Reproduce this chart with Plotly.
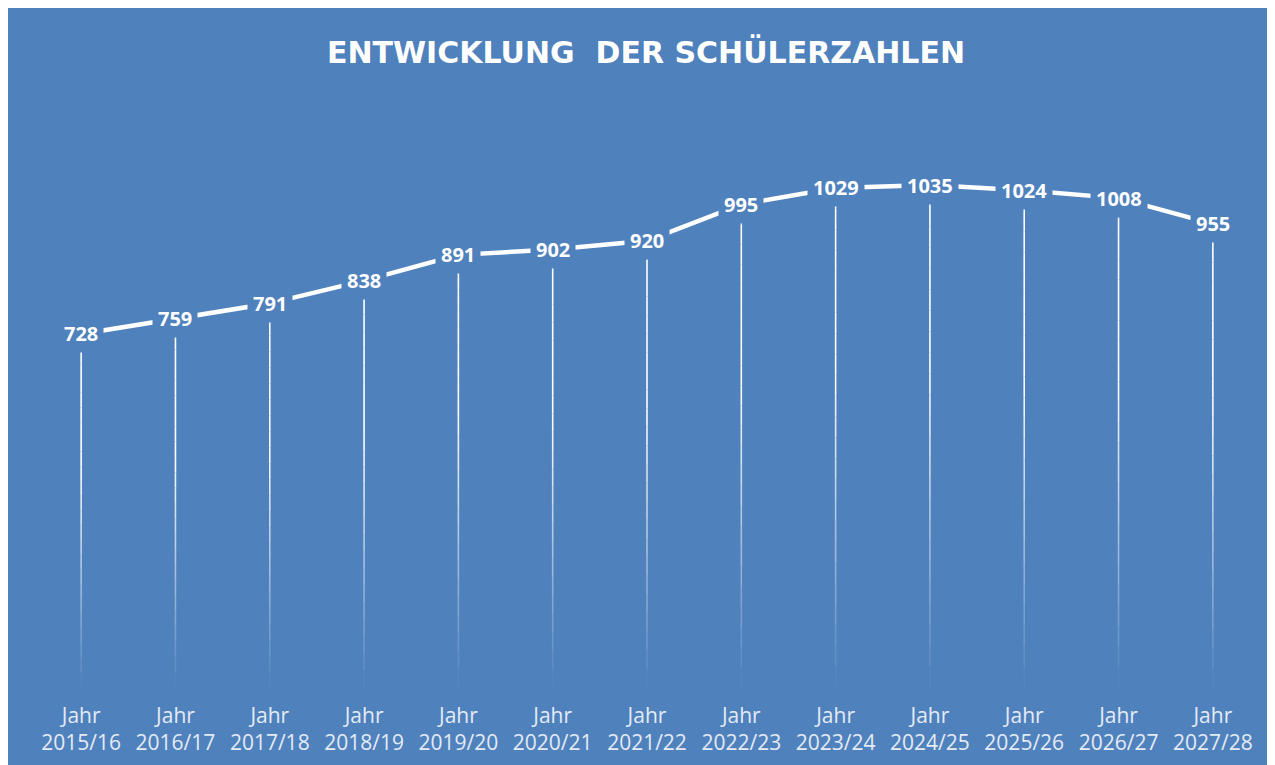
import plotly.graph_objects as go

years = ["2015/16", "2016/17", "2017/18", "2018/19", "2019/20", "2020/21", "2021/22",
         "2022/23", "2023/24", "2024/25", "2025/26", "2026/27", "2027/28"]
students = [728, 759, 791, 838, 891, 902, 920, 995, 1029, 1035, 1024, 1008, 955]
tick_labels = ["Jahr<br>" + y for y in years]
title_text = "ENTWICKLUNG  DER SCHÜLERZAHLEN"

BLUE = "#4F81BD"
W, H = 1275, 765
# the page adds an 8px white body margin, which stands in for the reference's white frame
ML, MR, MT, MB = 26, 23, 97, 86
YMAX = 1200

fig = go.Figure()

fig.add_trace(go.Scatter(
    x=years, y=students, mode="lines",
    line=dict(color="white", width=4.5),
    hoverinfo="skip", showlegend=False,
))

# fading drop lines
shapes = []
N = 24
for yr, v in zip(years, students):
    for k in range(N):
        y0 = v * k / N
        y1 = v * (k + 1) / N
        op = min(1.0, ((k + 0.5) / N) * 1.6)
        shapes.append(dict(type="line", xref="x", yref="y", x0=yr, x1=yr, y0=y0, y1=y1,
                           line=dict(color="white", width=1.6), opacity=op, layer="above"))

annotations = []
for yr, v in zip(years, students):
    annotations.append(dict(
        x=yr, y=v, xref="x", yref="y", text=f"<b>{v}</b>", showarrow=False,
        bgcolor=BLUE, borderpad=5,
        font=dict(family="Open Sans, sans-serif", size=20, color="white"),
    ))

fig.update_layout(
    width=W, height=H,
    paper_bgcolor=BLUE, plot_bgcolor=BLUE,
    margin=dict(l=ML, r=MR, t=MT, b=MB),
    title=dict(text=f"<b>{title_text}</b>", xref="container", yref="container",
               x=638 / W, y=1 - 44 / H, xanchor="center", yanchor="middle",
               font=dict(family="DejaVu Sans, sans-serif", size=30, color="white")),
    xaxis=dict(type="category", categoryorder="array", categoryarray=years,
               tickmode="array", tickvals=years, ticktext=tick_labels,
               range=[-0.5, len(years) - 0.5],
               showgrid=False, zeroline=False, showline=False, ticks="",
               ticklabelstandoff=14,
               tickfont=dict(family="Open Sans, sans-serif", size=21, color="#E4EBF5")),
    yaxis=dict(range=[0, YMAX], showgrid=False, zeroline=False, showline=False,
               showticklabels=False, ticks=""),
    shapes=shapes,
    annotations=annotations,
    showlegend=False,
)

fig.write_html("out.html")
